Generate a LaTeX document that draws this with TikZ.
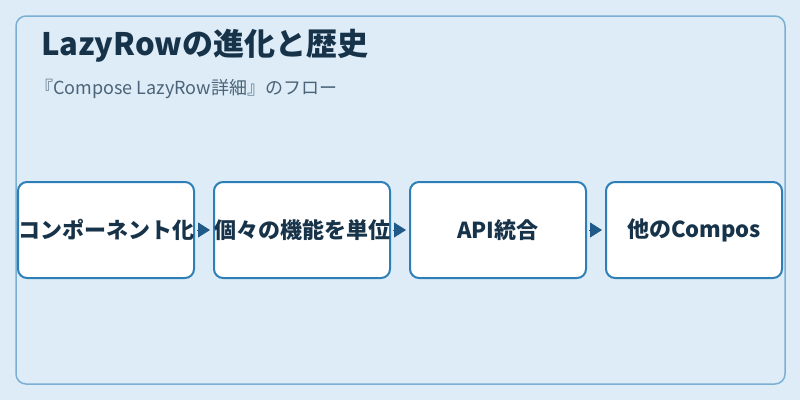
\documentclass[tikz,border=0pt]{standalone}
\usepackage{fontspec}
\setmainfont{Noto Sans CJK JP}
\usetikzlibrary{arrows.meta, positioning}
\definecolor{cbg}{HTML}{DDECF7}
\definecolor{cframe}{HTML}{7AB0D3}
\definecolor{cbox}{HTML}{2E7FB8}
\definecolor{carrow}{HTML}{1F5A88}
\definecolor{ctext}{HTML}{17334A}
\definecolor{csub}{HTML}{4C6479}
\tikzset{
  every picture/.style={x=1pt, y=-1pt},
  frame/.style={draw=cframe, line width=1.5pt, rounded corners=10pt},
  stepbox/.style={draw=cbox, fill=white, line width=2pt, rounded corners=9pt, minimum width=176pt, minimum height=96pt, inner sep=0pt, font=\fontsize{22}{25}\selectfont\bfseries, text=ctext},
  arrow/.style={-{Triangle[length=12pt, width=15pt]}, draw=carrow, fill=carrow, line width=1pt, shorten >=3pt, shorten <=2pt},
  title/.style={font=\fontsize{31}{34}\selectfont\bfseries, text=ctext, anchor=west, inner sep=0pt},
  note/.style={font=\fontsize{18}{21}\selectfont, text=csub, anchor=west, inner sep=0pt},
}
\begin{document}
\begin{tikzpicture}
  \fill[cbg] (0,0) rectangle (800,400);
  \useasboundingbox (0,0) rectangle (800,400);
  \draw[frame] (16,16) rectangle (785,384);
  \node[title] (head) at (41,46) {LazyRowの進化と歴史};
  \node[note] (sub) at (35,89) {『Compose LazyRow詳細』のフロー};
  \node[stepbox] (s1) at (106,230) {コンポーネント化};
  \node[stepbox, right=18pt of s1] (s2) {個々の機能を単位};
  \node[stepbox, right=18pt of s2] (s3) {API統合};
  \node[stepbox, right=18pt of s3] (s4) {他のCompos};
  \draw[arrow] (s1) -- (s2);
  \draw[arrow] (s2) -- (s3);
  \draw[arrow] (s3) -- (s4);
\end{tikzpicture}
\end{document}
